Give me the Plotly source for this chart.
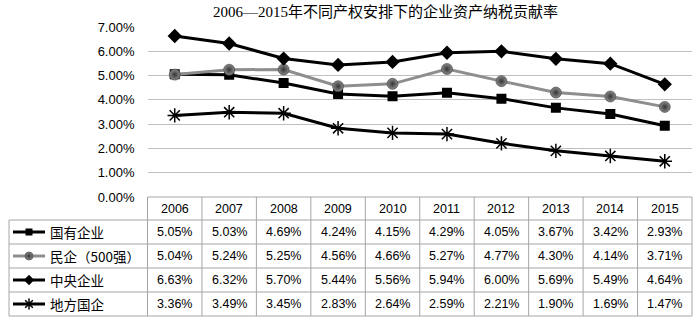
import plotly.graph_objects as go

years = ["2006", "2007", "2008", "2009", "2010", "2011", "2012", "2013", "2014", "2015"]
series_names = ["国有企业", "民企（500强）", "中央企业", "地方国企"]
guoyou = [0.0505, 0.0503, 0.0469, 0.0424, 0.0415, 0.0429, 0.0405, 0.0367, 0.0342, 0.0293]
minqi = [0.0504, 0.0524, 0.0525, 0.0456, 0.0466, 0.0527, 0.0477, 0.0430, 0.0414, 0.0371]
zhongyang = [0.0663, 0.0632, 0.0570, 0.0544, 0.0556, 0.0594, 0.0600, 0.0569, 0.0549, 0.0464]
difang = [0.0336, 0.0349, 0.0345, 0.0283, 0.0264, 0.0259, 0.0221, 0.0190, 0.0169, 0.0147]
all_values = [guoyou, minqi, zhongyang, difang]
title_text = "2006—2015年不同产权安排下的企业资产纳税贡献率"

W, H = 700, 319
PX0, PX1 = 147.5, 692.0      # plot / table column area
PY_TOP, PY_ZERO = 27.0, 197.0
ROWS = [197.0, 220.0, 244.0, 268.0, 292.0, 316.0]
TABLE_LEFT = 9.0
GRID = "#bfbfbf"
BORDER = "#a6a6a6"
NUM_FONT = "Liberation Sans, Arial, sans-serif"
CJK_FONT = "Noto Sans CJK SC, sans-serif"

def px(x):
    return x / W

def py(y):
    return 1 - y / H

styles = [
    dict(line=dict(color="#000000", width=3),
         marker=dict(symbol="square", size=10, color="#000000")),
    dict(line=dict(color="#8e8e8e", width=3),
         marker=dict(symbol="circle", size=11, color="#8a8a8a",
                     gradient=dict(type="radial", color="#353535"),
                     line=dict(color="#3a3a3a", width=0.6))),
    dict(line=dict(color="#000000", width=3),
         marker=dict(symbol="diamond", size=11, color="#000000")),
    dict(line=dict(color="#000000", width=3),
         marker=dict(symbol="asterisk-open", size=12, color="#000000",
                     line=dict(color="#000000", width=1.5))),
]

fig = go.Figure()
for name, vals, st in zip(series_names, all_values, styles):
    fig.add_trace(go.Scatter(x=years, y=vals, mode="lines+markers", name=name,
                             line=st["line"], marker=st["marker"],
                             showlegend=False, hoverinfo="skip",
                             xaxis="x", yaxis="y"))

key_x0, key_x1, key_mx = 13, 45, 29
for i, st in enumerate(styles):
    yc = (ROWS[i + 1] + ROWS[i + 2]) / 2
    mk = dict(st["marker"])
    mk["size"] = max(mk["size"] - 3, 6)
    fig.add_trace(go.Scatter(x=[key_x0, key_mx, key_x1], y=[yc, yc, yc],
                             mode="lines", line=st["line"], showlegend=False,
                             hoverinfo="skip", xaxis="x2", yaxis="y2"))
    fig.add_trace(go.Scatter(x=[key_mx], y=[yc], mode="markers", marker=mk,
                             showlegend=False, hoverinfo="skip",
                             xaxis="x2", yaxis="y2"))

shapes = []
shapes.append(dict(type="line", xref="paper", yref="paper",
                   x0=px(PX0), x1=px(PX1), y0=py(ROWS[0]), y1=py(ROWS[0]),
                   line=dict(color=BORDER, width=1)))
for r in ROWS[1:]:
    shapes.append(dict(type="line", xref="paper", yref="paper",
                       x0=px(TABLE_LEFT), x1=px(PX1), y0=py(r), y1=py(r),
                       line=dict(color=BORDER, width=1)))
shapes.append(dict(type="line", xref="paper", yref="paper",
                   x0=px(TABLE_LEFT), x1=px(TABLE_LEFT), y0=py(ROWS[1]), y1=py(ROWS[-1]),
                   line=dict(color=BORDER, width=1)))
ncol = len(years)
colw = (PX1 - PX0) / ncol
for i in range(ncol + 1):
    xx = PX0 + i * colw
    shapes.append(dict(type="line", xref="paper", yref="paper",
                       x0=px(xx), x1=px(xx), y0=py(ROWS[0]), y1=py(ROWS[-1]),
                       line=dict(color=BORDER, width=1)))

annotations = []
annotations.append(dict(text=title_text, xref="paper", yref="paper",
                        x=px(386), y=py(12), xanchor="center", yanchor="middle",
                        showarrow=False,
                        font=dict(family="Liberation Serif, Noto Sans CJK SC, serif",
                                  size=15, color="#000000")))
hy = (ROWS[0] + ROWS[1]) / 2
for j, yr in enumerate(years):
    annotations.append(dict(text=yr, xref="x", yref="paper", x=j, y=py(hy),
                            showarrow=False, xanchor="center", yanchor="middle",
                            font=dict(family=NUM_FONT, size=12.5, color="#000000")))
for i, (name, vals) in enumerate(zip(series_names, all_values)):
    yc = (ROWS[i + 1] + ROWS[i + 2]) / 2
    annotations.append(dict(text=name, xref="paper", yref="paper", x=px(48), y=py(yc),
                            showarrow=False, xanchor="left", yanchor="middle",
                            font=dict(family=CJK_FONT, size=13.5, color="#000000")))
    for j, v in enumerate(vals):
        annotations.append(dict(text=f"{v*100:.2f}%", xref="x", yref="paper",
                                x=j, y=py(yc), showarrow=False,
                                xanchor="center", yanchor="middle",
                                font=dict(family=NUM_FONT, size=12.5, color="#000000")))

fig.update_layout(
    width=W, height=H, autosize=False,
    margin=dict(l=0, r=0, t=0, b=0, pad=0, autoexpand=False),
    paper_bgcolor="white", plot_bgcolor="rgba(0,0,0,0)",
    xaxis=dict(domain=[px(PX0), px(PX1)], type="category", range=[-0.5, 9.5],
               showticklabels=False, showgrid=False, zeroline=False,
               showline=False, ticks="", automargin=False),
    yaxis=dict(domain=[py(PY_ZERO), py(PY_TOP)], range=[0, 0.07], dtick=0.01,
               tickformat=".2%", showgrid=True, gridcolor=GRID, gridwidth=1,
               zeroline=False, showline=False, ticks="", automargin=False,
               ticklabelstandoff=12,
               tickfont=dict(family=NUM_FONT, size=13, color="#000000")),
    xaxis2=dict(domain=[0, 1], range=[0, W], visible=False, anchor="y2",
                automargin=False),
    yaxis2=dict(domain=[0, 1], range=[H, 0], visible=False, anchor="x2",
                automargin=False),
    shapes=shapes,
    annotations=annotations,
    showlegend=False,
)

fig.write_html("out.html",
               config={"displayModeBar": False, "responsive": False},
               post_script="document.body.style.margin='0';"
                           "document.body.style.padding='0';"
                           "document.body.style.overflow='hidden';")
